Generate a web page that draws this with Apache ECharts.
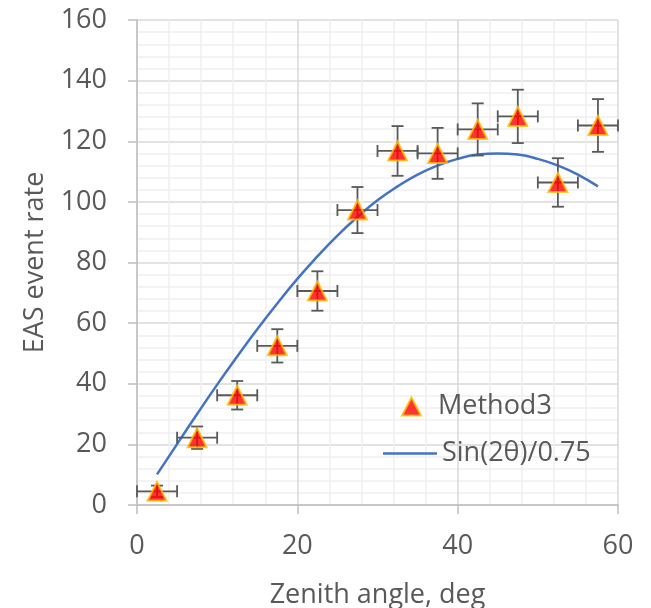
<!DOCTYPE html>
<html>
<head>
<meta charset="utf-8">
<script src="https://cdn.jsdelivr.net/npm/echarts@6/dist/echarts.min.js"></script>
<style>
  html, body { margin: 0; padding: 0; background: #fff; }
  #chart { width: 651px; height: 608px; }
</style>
</head>
<body>
<div id="chart"></div>
<script>
// Measured points: zenith bin centre, event rate, errors
const angles = [2.5, 7.5, 12.5, 17.5, 22.5, 27.5, 32.5, 37.5, 42.5, 47.5, 52.5, 57.5]
const rates = [4.5, 22.2, 36.2, 52.5, 70.6, 97.3, 116.8, 116.0, 123.9, 128.2, 106.4, 125.2]
const rateErr = [1.9, 3.7, 4.7, 5.5, 6.5, 7.6, 8.2, 8.4, 8.6, 8.8, 8.0, 8.7]
const angleErr = [2.5, 2.5, 2.5, 2.5, 2.5, 2.5, 2.5, 2.5, 2.5, 2.5, 2.5, 2.5]

// Fitted curve
const curveAngles = [2.5, 5, 7.5, 10, 12.5, 15, 17.5, 20, 22.5, 25, 27.5, 30, 32.5, 35, 37.5, 40, 42.5, 45, 47.5, 50, 52.5, 55, 57.5]
const curveRates = [10.1, 20.1, 30.0, 39.7, 49.0, 58.0, 66.5, 74.6, 82.0, 88.9, 95.0, 100.5, 105.1, 109.0, 112.0, 114.2, 115.6, 116.0, 115.6, 114.2, 112.0, 109.0, 105.1]

const FONT = '"Open Sans", sans-serif'
const TEXT = '#595959'

const chart = echarts.init(document.getElementById('chart'))

function errorBars(params, api) {
  const x = api.value(0), y = api.value(1)
  const ey = api.value(2), ex = api.value(3)
  const top = api.coord([x, y + ey])
  const bot = api.coord([x, y - ey])
  const left = api.coord([x - ex, y])
  const right = api.coord([x + ex, y])
  const cap = 6
  const style = { stroke: '#595959', lineWidth: 1.8 }
  const seg = (x1, y1, x2, y2) => ({ type: 'line', shape: { x1, y1, x2, y2 }, style })
  return {
    type: 'group',
    children: [
      seg(top[0], top[1], bot[0], bot[1]),
      seg(top[0] - cap, top[1], top[0] + cap, top[1]),
      seg(bot[0] - cap, bot[1], bot[0] + cap, bot[1]),
      seg(left[0], left[1], right[0], right[1]),
      seg(left[0], left[1] - cap, left[0], left[1] + cap),
      seg(right[0], right[1] - cap, right[0], right[1] + cap),
    ],
  }
}

const axisCommon = {
  type: 'value',
  interval: 20,
  axisLine: { show: true, lineStyle: { color: '#bfbfbf', width: 1.5 } },
  axisTick: { show: true, inside: false, length: 9, lineStyle: { color: '#bfbfbf', width: 1.5 } },
  splitLine: { show: true, lineStyle: { color: '#d9d9d9', width: 1.5 } },
  minorSplitLine: { show: true, lineStyle: { color: '#f0f0f0', width: 1.5 } },
  minorTick: { show: false, splitNumber: 5 },
  axisLabel: { color: TEXT, fontSize: 27, fontFamily: FONT },
  nameLocation: 'middle',
  nameTextStyle: { color: TEXT, fontSize: 27, fontFamily: FONT },
}

const legendText = { color: TEXT, fontSize: 27, fontFamily: FONT }

chart.setOption({
  animation: false,
  backgroundColor: '#fff',
  grid: { left: 137, right: 33, top: 20, bottom: 103, outerBoundsMode: 'none' },
  xAxis: {
    ...axisCommon,
    min: 0,
    max: 60,
    name: 'Zenith angle, deg',
    nameGap: 77,
    axisLabel: { ...axisCommon.axisLabel, margin: 28 },
  },
  yAxis: {
    ...axisCommon,
    min: 0,
    max: 160,
    name: 'EAS event rate',
    nameGap: 88,
    axisLabel: { ...axisCommon.axisLabel, margin: 30 },
  },
  legend: [
    {
      data: [{ name: 'Method3', icon: 'triangle' }],
      left: 396,
      top: 388,
      itemWidth: 19,
      itemHeight: 18,
      itemStyle: { borderColor: '#ffc000', borderWidth: 2 },
      textStyle: { ...legendText, padding: [0, 0, 0, 12] },
    },
    {
      data: [{ name: 'Sin(2θ)/0.75', icon: 'rect' }],
      left: 378,
      top: 435,
      itemWidth: 54,
      itemHeight: 2.5,
      textStyle: legendText,
    },
  ],
  series: [
    {
      name: 'Sin(2θ)/0.75',
      type: 'line',
      data: curveAngles.map((a, i) => [a, curveRates[i]]),
      smooth: true,
      symbol: 'none',
      itemStyle: { color: '#4472c4' },
      lineStyle: { color: '#4472c4', width: 2.5 },
      z: 2,
    },
    {
      name: 'errors',
      type: 'custom',
      data: angles.map((a, i) => [a, rates[i], rateErr[i], angleErr[i]]),
      renderItem: errorBars,
      z: 3,
    },
    {
      name: 'Method3',
      type: 'scatter',
      data: angles.map((a, i) => [a, rates[i]]),
      symbol: 'triangle',
      symbolSize: 19,
      itemStyle: { color: '#ff0000', borderColor: '#ffc000', borderWidth: 2 },
      z: 4,
    },
  ],
})
</script>
</body>
</html>
